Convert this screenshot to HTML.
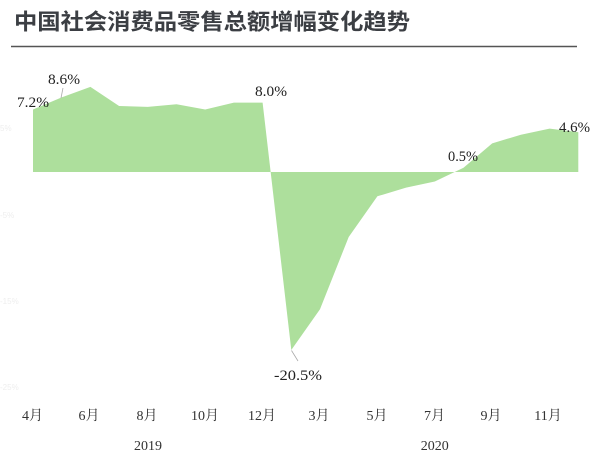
<!DOCTYPE html>
<html>
<head>
<meta charset="utf-8">
<style>
html,body{margin:0;padding:0;background:#fff;}
body{width:600px;height:459px;overflow:hidden;}
svg{display:block;}
.t{font-family:"Liberation Sans","Noto Sans CJK SC",sans-serif;font-weight:bold;font-size:22px;fill:#3b3e43;}
.lbl{font-family:"Liberation Serif","Noto Serif CJK SC",serif;font-size:15px;fill:#222;}
.ax{font-family:"Liberation Serif","Noto Serif CJK SC",serif;font-size:14px;fill:#333;text-anchor:middle;}
.fy{font-family:"Liberation Sans",sans-serif;font-size:8px;fill:#eeeeee;}
</style>
</head>
<body>
<svg width="600" height="459" viewBox="0 0 600 459" xmlns="http://www.w3.org/2000/svg">
<text class="t" x="14" y="29.5" textLength="396" lengthAdjust="spacingAndGlyphs">中国社会消费品零售总额增幅变化趋势</text>
<line x1="11" y1="46.5" x2="577" y2="46.5" stroke="#555" stroke-width="1.5"/>

<text class="fy" x="0" y="131">5%</text>
<text class="fy" x="0" y="218">-5%</text>
<text class="fy" x="0" y="304">-15%</text>
<text class="fy" x="0" y="390">-25%</text>

<path fill="#addf9c" d="M33,172 L33,109.5 L61.7,97.4 L90.4,86.9 L119.1,106 L147.8,106.9 L176.5,104.3 L205.2,109.5 L233.9,102.6 L262.6,102.6 L291.3,350 L320,309.2 L348.7,237 L377.4,196.3 L406.1,187.6 L434.8,181.5 L463.5,167.7 L492.2,143.4 L520.9,134.7 L549.6,128.6 L578.3,132.1 L578.3,172 Z"/>

<line x1="63" y1="88" x2="61" y2="98" stroke="#aaa" stroke-width="0.8"/>
<line x1="291.5" y1="350.5" x2="298" y2="361" stroke="#aaa" stroke-width="0.8"/>

<text class="lbl" x="17" y="107" textLength="32" lengthAdjust="spacingAndGlyphs">7.2%</text>
<text class="lbl" x="48" y="84" textLength="32" lengthAdjust="spacingAndGlyphs">8.6%</text>
<text class="lbl" x="255" y="96" textLength="32" lengthAdjust="spacingAndGlyphs">8.0%</text>
<text class="lbl" x="274" y="380" textLength="48" lengthAdjust="spacingAndGlyphs">-20.5%</text>
<text class="lbl" x="448" y="161" textLength="30" lengthAdjust="spacingAndGlyphs">0.5%</text>
<text class="lbl" x="559" y="132" textLength="31" lengthAdjust="spacingAndGlyphs">4.6%</text>

<text class="ax" x="32.5" y="420">4月</text>
<text class="ax" x="89" y="420">6月</text>
<text class="ax" x="147" y="420">8月</text>
<text class="ax" x="205" y="420">10月</text>
<text class="ax" x="262" y="420">12月</text>
<text class="ax" x="319" y="420">3月</text>
<text class="ax" x="377" y="420">5月</text>
<text class="ax" x="434.5" y="420">7月</text>
<text class="ax" x="491" y="420">9月</text>
<text class="ax" x="548" y="420">11月</text>

<text class="ax" x="148" y="450">2019</text>
<text class="ax" x="434.7" y="450">2020</text>
</svg>
</body>
</html>
